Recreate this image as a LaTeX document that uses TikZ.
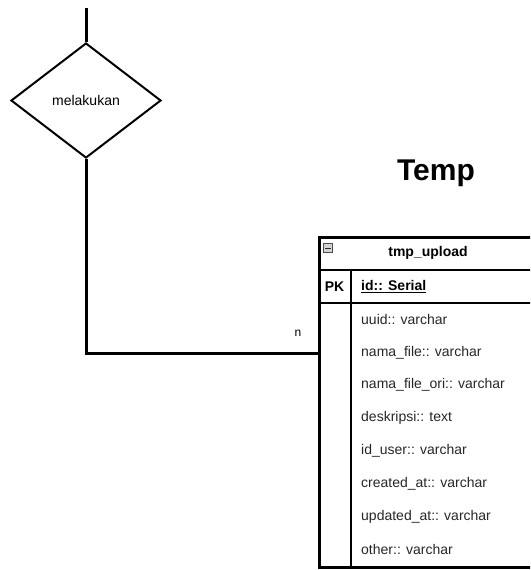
\documentclass[tikz,border=0pt]{standalone}
\usepackage{fontspec}
\setmainfont{Liberation Sans}
\usetikzlibrary{shapes.geometric}
\begin{document}
\begin{tikzpicture}[x=1pt,y=-1pt,
  every node/.style={font=\fontsize{14}{16}\selectfont},
  conn/.style={line width=3pt},
  relshape/.style={diamond, draw, line width=2pt, minimum width=150pt, minimum height=115pt, inner sep=0pt, font=\fontsize{14}{16}\selectfont},
  tblline/.style={line width=2.5pt},
  fieldtxt/.style={anchor=west, inner sep=0pt, text=black!85, font=\fontsize{14}{16}\selectfont},
  boldtxt/.style={inner sep=0pt, font=\bfseries\fontsize{14}{16}\selectfont}]
\useasboundingbox (0,0) rectangle (530,570);
\clip (0,0) rectangle (530,570);

% relationship
\node[relshape] (rel) at (86,100.5) {melakukan};
\coordinate (topend) at (86,8);
\draw[conn] (topend) -- (rel.north);

% title
\node[inner sep=0pt, font=\bfseries\fontsize{30}{34}\selectfont] (title) at (436,173) {Temp};

% table
\node[draw, tblline, anchor=north west, minimum width=220pt, minimum height=330pt, inner sep=0pt] (tbl) at (318,236) {};
\draw[tblline] (tbl.west |- 0,270) -- (tbl.east |- 0,270);
\draw[tblline] (tbl.west |- 0,303) -- (tbl.east |- 0,303);
\draw[tblline] (351,270) -- (351,566);

\node[draw=gray!60!black, fill=gray!35, line width=0.6pt, minimum size=9pt, inner sep=0pt] (icon) at (328,248) {};
\draw[line width=1pt, gray!30!black] ([xshift=2pt]icon.west) -- ([xshift=-2pt]icon.east);
\node[boldtxt] (hdr) at (428,253) {tmp\_upload};
\node[boldtxt] (pk) at (334.5,286.5) {PK};
\node[boldtxt, anchor=west] (idf) at (361,286.5) {\underline{id:: Serial}};

\node[fieldtxt] (f1) at (361,319.5) {uuid:: varchar};
\node[fieldtxt] (f2) at (361,352.4) {nama\_file:: varchar};
\node[fieldtxt] (f3) at (361,385.3) {nama\_file\_ori:: varchar};
\node[fieldtxt] (f4) at (361,418.2) {deskripsi:: text};
\node[fieldtxt] (f5) at (361,451.1) {id\_user:: varchar};
\node[fieldtxt] (f6) at (361,484.0) {created\_at:: varchar};
\node[fieldtxt] (f7) at (361,516.9) {updated\_at:: varchar};
\node[fieldtxt] (f8) at (361,549.8) {other:: varchar};

% connector
\draw[conn] (rel.south) |- ([yshift=48.3pt]tbl.west);
\node[inner sep=0pt, font=\fontsize{12}{14}\selectfont] (card) at (298,333) {n};
\end{tikzpicture}
\end{document}
